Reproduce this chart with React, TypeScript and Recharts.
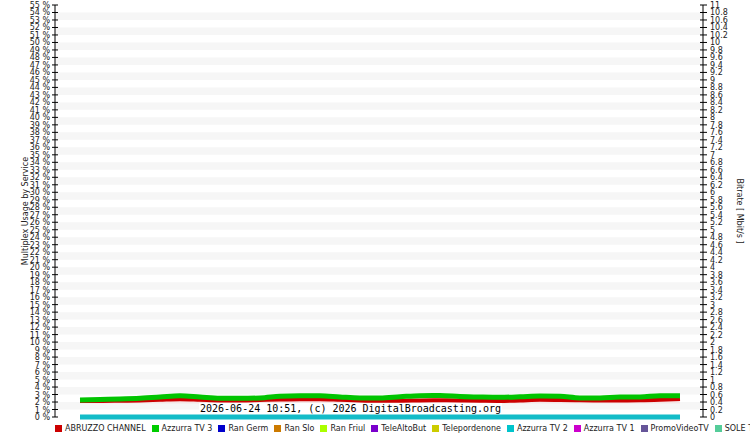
import React from 'react';
import { ComposedChart, Line, Area, XAxis, YAxis, ReferenceArea, Legend } from 'recharts';

// sample slots across the time window (left to right)
const slots = [
  0, 1, 2, 3, 4, 5, 6, 7, 8, 9, 10, 11, 12, 13, 14, 15,
  16, 17, 18, 19, 20, 21, 22, 23, 24, 25, 26, 27, 28, 29, 30,
];

// multiplex usage, %
const abruzzoChannel = [
  2.14, 2.14, 2.17, 2.21, 2.3, 2.38, 2.3, 2.21, 2.21, 2.27, 2.34, 2.38, 2.38, 2.3, 2.21, 2.17,
  2.17, 2.21, 2.23, 2.21, 2.17, 2.14, 2.21, 2.3, 2.27, 2.23, 2.21, 2.21, 2.23, 2.3, 2.41,
];
const azzurraTv3 = [
  2.27, 2.34, 2.41, 2.51, 2.67, 2.85, 2.67, 2.5, 2.5, 2.54, 2.78, 2.85, 2.83, 2.67, 2.54, 2.54,
  2.7, 2.85, 2.87, 2.74, 2.67, 2.63, 2.7, 2.81, 2.77, 2.54, 2.54, 2.67, 2.67, 2.85, 2.85,
];
const azzurraTv2 = [
  0, 0, 0, 0, 0, 0, 0, 0, 0, 0, 0, 0, 0, 0, 0, 0,
  0, 0, 0, 0, 0, 0, 0, 0, 0, 0, 0, 0, 0, 0, 0,
];

const services = [
  'ABRUZZO CHANNEL', 'Azzurra TV 3', 'Ran Germ', 'Ran Slo', 'Ran Friul', 'TeleAltoBut',
  'Telepordenone', 'Azzurra TV 2', 'Azzurra TV 1', 'PromoVideoTV', 'SOLE TV',
];
const serviceColors = [
  '#cc0000', '#00cc00', '#0000cc', '#cc7a00', '#aaff00', '#7a00cc',
  '#cccc00', '#00c4cc', '#cc00cc', '#665599', '#55cc99',
];

const usageTicks = Array.from({ length: 56 }, (_, i) => i);
const bitrateTicks = Array.from({ length: 56 }, (_, i) => Number((i * 0.2).toFixed(1)));
const stripeBands = Array.from({ length: 27 }, (_, i) => [2 * i + 1, 2 * i + 2]);

const data = slots.map((s, i) => ({
  slot: s,
  abruzzo: abruzzoChannel[i],
  tv3: azzurraTv3[i],
  tv2: azzurraTv2[i],
}));

const FONT = '"DejaVu Sans", sans-serif';

function LeftTick(props: any) {
  const { x, y, payload } = props;
  return (
    <g>
      <line x1={x + 1} x2={x + 7} y1={y} y2={y} stroke="#000" />
      <text x={x - 1} y={y} dy={3} textAnchor="end" fontSize={8} fontFamily={FONT} fill="#222">
        {payload.value} %
      </text>
    </g>
  );
}

function RightTick(props: any) {
  const { x, y, payload } = props;
  return (
    <g>
      <line x1={x - 10} x2={x - 3} y1={y} y2={y} stroke="#000" />
      <text x={x} y={y} dy={3} textAnchor="start" fontSize={8} fontFamily={FONT} fill="#222">
        {String(payload.value)}
      </text>
    </g>
  );
}

function ServiceLegend() {
  return (
    <div style={{ display: 'flex', whiteSpace: 'nowrap', overflow: 'hidden', width: 695, fontFamily: FONT, fontSize: 8, color: '#222', alignItems: 'center' }}>
      {services.map((s, i) => (
        <span key={s} style={{ display: 'inline-flex', alignItems: 'center', marginRight: 6 }}>
          <span style={{ display: 'inline-block', width: 7, height: 7, background: serviceColors[i], marginRight: 3 }} />
          {s}
        </span>
      ))}
    </div>
  );
}

export default function App() {
  return (
    <div style={{ position: 'absolute', left: 0, top: 0, width: 750, height: 437, background: '#fff' }}>
      <ComposedChart width={750} height={437} data={data} margin={{ top: 5, right: 0, left: 0, bottom: 0 }}>
        <defs>
          <linearGradient id="redGlow" x1="0" y1="0" x2="0" y2="1">
            <stop offset="0" stopColor="#cc0000" stopOpacity={0.3} />
            <stop offset="0.3" stopColor="#cc0000" stopOpacity={0} />
          </linearGradient>
        </defs>
        <XAxis dataKey="slot" type="number" domain={[-1.25, 31.15]} hide />
        <YAxis
          yAxisId="usage"
          domain={[0, 55]}
          ticks={usageTicks}
          interval={0}
          width={55}
          tickSize={3}
          tickMargin={1}
          tickLine={false}
          tick={<LeftTick />}
          axisLine={{ stroke: '#000' }}
          label={{ value: 'Multiplex Usage by Service', angle: -90, position: 'insideLeft', offset: 25, style: { textAnchor: 'middle', fontSize: 8, fontFamily: FONT, fill: '#222' } }}
        />
        <YAxis
          yAxisId="bitrate"
          orientation="right"
          type="number"
          domain={[0, 11]}
          allowDataOverflow
          ticks={bitrateTicks}
          interval={0}
          width={47}
          tickSize={3}
          tickMargin={4}
          tickLine={false}
          tick={<RightTick />}
          axisLine={{ stroke: '#000' }}
          label={{ value: 'Bitrate [ Mbit/s ]', angle: 90, position: 'insideRight', offset: 10, style: { textAnchor: 'middle', fontSize: 8, fontFamily: FONT, fill: '#222' } }}
        />
        {stripeBands.map(([a, b]) => (
          <ReferenceArea key={a} yAxisId="usage" y1={a} y2={b} fill="#f6f6f6" fillOpacity={1} stroke="none" ifOverflow="hidden" />
        ))}
        <Area yAxisId="usage" dataKey="abruzzo" type="monotone" stroke="none" fill="url(#redGlow)" isAnimationActive={false} />
        {/* keeps the bitrate axis bound to the data so its ticks render */}
        <Line yAxisId="bitrate" dataKey="tv2" stroke="none" dot={false} legendType="none" isAnimationActive={false} />
        <Line yAxisId="usage" dataKey="tv2" type="monotone" stroke="#13bcc8" strokeWidth={5} dot={false} isAnimationActive={false} />
        <Line yAxisId="usage" dataKey="abruzzo" type="monotone" stroke="#cc0000" strokeWidth={4} dot={false} isAnimationActive={false} />
        <Line yAxisId="usage" dataKey="tv3" type="monotone" stroke="#00c400" strokeWidth={5} dot={false} isAnimationActive={false} />
        <Legend
          height={20}
          content={<ServiceLegend />}
          wrapperStyle={{ left: 55, top: 424, width: 695 }}
        />
      </ComposedChart>
      <div
        style={{
          position: 'absolute',
          left: 199,
          top: 403,
          padding: '0 1px',
          background: '#fff',
          fontFamily: '"DejaVu Sans Mono", monospace',
          fontSize: 10,
          lineHeight: '11px',
          color: '#000',
          whiteSpace: 'nowrap',
        }}
      >
        2026-06-24 10:51, (c) 2026 DigitalBroadcasting.org
      </div>
    </div>
  );
}
